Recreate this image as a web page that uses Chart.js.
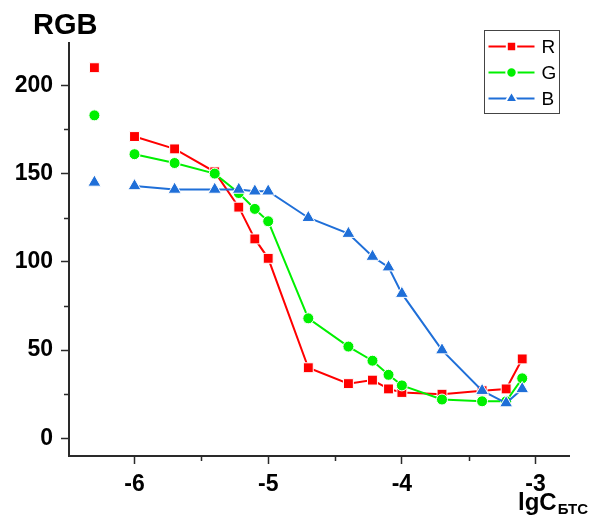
<!DOCTYPE html>
<html>
<head>
<meta charset="utf-8">
<script src="https://cdn.jsdelivr.net/npm/chart.js@4.4.1/dist/chart.umd.min.js"></script>
<style>
  body { margin: 0; background: #fff; }
</style>
</head>
<body>
<canvas id="graficoRGB" width="592" height="522"></canvas>
<script>
// lg C(БТС) и значения каналов R, G, B
const lgC = [-6.3, -6, -5.7, -5.4, -5.22, -5.1, -5, -4.7, -4.4, -4.22, -4.1, -4, -3.7, -3.4, -3.22, -3.1];
const valoresR = [210, 171, 164, 151, 131, 113, 102, 40, 31, 33, 28, 26, 25, 27, 28, 45];
const valoresG = [183, 161, 156, 150, 139, 130, 123, 68, 52, 44, 36, 30, 22, 21, 21, 34];
const valoresB = [145, 143, 141, 141, 141, 140, 140, 125, 116, 103, 97, 82, 50, 27, 20, 28];

const ticksX = [-6, -5, -4, -3];
const ticksXMenores = [-5.5, -4.5, -3.5];
const ticksY = [0, 50, 100, 150, 200];
const ticksYMenores = [25, 75, 125, 175];

const COLOR_EJE = "#2a2a2a";
const FUENTE = "'Liberation Sans', Arial, sans-serif";

function puntos(valores) {
  return valores.map((v, i) => ({ x: lgC[i], y: v }));
}

// el primer punto (sin línea hacia el resto)
const sinPrimerTramo = (color) => ({
  borderColor: (ctx) => (ctx.p0DataIndex === 0 ? "rgba(0,0,0,0)" : color),
});

function serie(label, valores, color, estilo, radio, orden) {
  return {
    label: label,
    data: puntos(valores),
    borderColor: color,
    backgroundColor: color,
    borderWidth: 2,
    pointStyle: estilo,
    pointRadius: radio,
    pointBackgroundColor: color,
    pointBorderColor: "#ffffff",
    pointBorderWidth: 1,
    tension: 0,
    order: orden,
    segment: sinPrimerTramo(color),
  };
}

const extras = {
  id: "extras",
  afterDraw(chart) {
    const ctx = chart.ctx;
    const area = chart.chartArea;
    const sx = chart.scales.x;
    const sy = chart.scales.y;
    ctx.save();

    // ticks menores
    ctx.strokeStyle = COLOR_EJE;
    ctx.lineWidth = 1.5;
    ctx.beginPath();
    ticksYMenores.forEach((v) => {
      const p = Math.round(sy.getPixelForValue(v)) + 0.5;
      ctx.moveTo(area.left - 5, p);
      ctx.lineTo(area.left, p);
    });
    ticksXMenores.forEach((v) => {
      const p = Math.round(sx.getPixelForValue(v)) + 0.5;
      ctx.moveTo(p, area.bottom);
      ctx.lineTo(p, area.bottom + 5);
    });
    ctx.stroke();

    // títulos de ejes
    ctx.fillStyle = "#000";
    ctx.textBaseline = "alphabetic";
    ctx.textAlign = "left";
    ctx.font = "bold 29px " + FUENTE;
    ctx.fillText("RGB", 33, 34);
    ctx.font = "bold 24px " + FUENTE;
    ctx.fillText("lgC", 518, 510);
    const anchoLgC = ctx.measureText("lgC").width;
    ctx.font = "bold 15px " + FUENTE;
    ctx.fillText("БТС", 518 + anchoLgC + 1, 514);

    // leyenda
    const bx = 484.5, by = 30.5, bw = 75, bh = 83;
    ctx.strokeStyle = "#444";
    ctx.lineWidth = 1;
    ctx.strokeRect(bx, by, bw, bh);
    const orden = [0, 1, 2];
    orden.forEach((i, fila) => {
      const ds = chart.data.datasets[i];
      const yy = by + 16 + fila * 26;
      ctx.strokeStyle = ds.borderColor;
      ctx.lineWidth = 2;
      ctx.beginPath();
      ctx.moveTo(bx + 4, yy);
      ctx.lineTo(bx + 50, yy);
      ctx.stroke();
      ctx.fillStyle = ds.pointBackgroundColor;
      ctx.strokeStyle = "#fff";
      Chart.helpers.drawPoint(ctx, {
        pointStyle: ds.pointStyle,
        radius: ds.pointRadius * 0.95,
        borderWidth: 1,
        rotation: 0,
      }, bx + 27, yy);
      ctx.fillStyle = "#000";
      ctx.font = "19px " + FUENTE;
      ctx.textBaseline = "middle";
      ctx.fillText(ds.label, bx + 57, yy + 1);
    });
    ctx.restore();
  },
};

const ctx = document.getElementById("graficoRGB").getContext("2d");

new Chart(ctx, {
  type: "line",
  data: {
    datasets: [
      serie("R", valoresR, "#ff0000", "rect", 7, 3),
      serie("G", valoresG, "#00f000", "circle", 5.5, 2),
      serie("B", valoresB, "#1f6fd8", "triangle", 7.5, 1),
    ],
  },
  options: {
    responsive: false,
    animation: false,
    devicePixelRatio: 1,
    layout: { padding: { top: 43, right: 23, left: 0, bottom: 0 } },
    plugins: {
      legend: { display: false },
      tooltip: { enabled: false },
      title: { display: false },
    },
    scales: {
      x: {
        type: "linear",
        min: -6.49,
        max: -2.75,
        afterBuildTicks: (s) => { s.ticks = ticksX.map((v) => ({ value: v })); },
        afterFit: (s) => { s.height = 66; },
        grid: {
          display: true,
          drawOnChartArea: false,
          drawTicks: true,
          tickLength: 8,
          tickWidth: 1.5,
          tickColor: COLOR_EJE,
        },
        border: { display: true, width: 2, color: COLOR_EJE },
        ticks: {
          color: "#000",
          padding: 7,
          maxRotation: 0,
          font: { family: FUENTE, size: 23, weight: "bold" },
        },
      },
      y: {
        type: "linear",
        min: -10,
        max: 224,
        afterBuildTicks: (s) => { s.ticks = ticksY.map((v) => ({ value: v })); },
        afterFit: (s) => { s.width = 69; },
        grid: {
          display: true,
          drawOnChartArea: false,
          drawTicks: true,
          tickLength: 8,
          tickWidth: 1.5,
          tickColor: COLOR_EJE,
        },
        border: { display: true, width: 2, color: COLOR_EJE },
        ticks: {
          color: "#000",
          padding: 8,
          font: { family: FUENTE, size: 23, weight: "bold" },
        },
      },
    },
  },
  plugins: [extras],
});
</script>
</body>
</html>
